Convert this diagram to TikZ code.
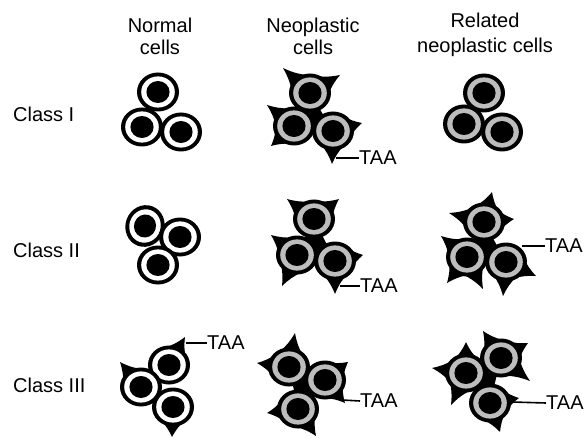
\documentclass[tikz,border=0pt]{standalone}
\usepackage{fontspec}
\setmainfont{Liberation Sans}
\usetikzlibrary{calc}
\definecolor{ringgray}{gray}{0.74}

% one cell: black membrane, coloured cytoplasm ring, black nucleus
\newcommand\cellat[3]{%
  \fill[black,rotate around={#3:(#1)}] (#1) ellipse[x radius=21pt, y radius=19.5pt];
  \fill[#2,rotate around={#3:(#1)}] (#1) ellipse[x radius=16.8pt, y radius=15.6pt];
  \fill[black,rotate around={#3:(#1)}] (#1) ellipse[x radius=11.6pt, y radius=11pt];}
% a surface antigen spike growing out of cell #1 with its tip at #2
\newcommand\spk[2]{%
  \fill[black] ($(#1)!18pt!-40:(#2)$) to[bend left=9] (#2)
     to[bend left=9] ($(#1)!18pt!40:(#2)$) -- cycle;}
% dark fill of the gap between three neighbouring cells
\newcommand\gapfill[3]{\fill[black] (#1) -- (#2) -- (#3) -- cycle;}

\tikzset{
  lbl/.style={inner sep=0pt, font=\fontsize{20}{22}\selectfont},
  taa/.style={lbl, anchor=west},
  taaline/.style={line width=1.6pt}
}

\begin{document}
\begin{tikzpicture}[x=1pt,y=-1pt]
\useasboundingbox (0,0) rectangle (588,438);
\fill[white] (0,0) rectangle (588,438);

% column headings
\node[lbl,anchor=base] (hn1) at (160,33) {Normal};
\node[lbl,anchor=base] (hn2) at (160,55) {cells};
\node[lbl,anchor=base] (hp1) at (313,33) {Neoplastic};
\node[lbl,anchor=base] (hp2) at (313,55) {cells};
\node[lbl,anchor=base] (hr1) at (485,28) {Related};
\node[lbl,anchor=base] (hr2) at (485,53) {neoplastic cells};

% row headings
\node[lbl,anchor=base west] (c1) at (13,122) {Class I};
\node[lbl,anchor=base west] (c2) at (13,257) {Class II};
\node[lbl,anchor=base west] (c3) at (13,392) {Class III};

% ---------------- Class I ----------------
\coordinate (m1a) at (158,92);
\coordinate (m1b) at (142,127);
\coordinate (m1c) at (181,132);
\cellat{m1a}{white}{0}
\cellat{m1c}{white}{0}
\cellat{m1b}{white}{0}

\coordinate (n1a) at (310,93);
\coordinate (n1b) at (294,126);
\coordinate (n1c) at (333,131);
\spk{n1a}{283,68}
\spk{n1a}{340,75}
\spk{n1b}{267,105}
\spk{n1c}{362,123}
\spk{n1b}{271,146}
\spk{n1c}{332,164}
\gapfill{n1a}{n1b}{n1c}
\cellat{n1a}{ringgray}{0}
\cellat{n1c}{ringgray}{0}
\cellat{n1b}{ringgray}{0}
\coordinate (t1s) at (336,158);
\node[taa] (t1) at (359,158) {TAA};
\draw[taaline] (t1s) -- (t1.west);

\coordinate (r1a) at (484,93);
\coordinate (r1b) at (464,124);
\coordinate (r1c) at (502,132);
\cellat{r1a}{ringgray}{0}
\cellat{r1c}{ringgray}{0}
\cellat{r1b}{ringgray}{0}

% ---------------- Class II ----------------
\coordinate (m2a) at (145,226);
\coordinate (m2b) at (180,237);
\coordinate (m2c) at (158,265);
\cellat{m2a}{white}{70}
\cellat{m2b}{white}{0}
\cellat{m2c}{white}{0}

\coordinate (n2a) at (314,219);
\coordinate (n2b) at (297,255);
\coordinate (n2c) at (335,261);
\spk{n2a}{287,199}
\spk{n2a}{339,199}
\spk{n2b}{271,235}
\spk{n2c}{363,255}
\spk{n2b}{282,286}
\spk{n2c}{335,294}
\gapfill{n2a}{n2b}{n2c}
\cellat{n2a}{ringgray}{0}
\cellat{n2c}{ringgray}{0}
\cellat{n2b}{ringgray}{0}
\coordinate (t2s) at (340,286);
\node[taa] (t2) at (360,286) {TAA};
\draw[taaline] (t2s) -- (t2.west);

\coordinate (r2a) at (484,222);
\coordinate (r2b) at (467,257);
\coordinate (r2c) at (506,262);
\spk{r2a}{492,192}
\spk{r2a}{449,213}
\spk{r2a}{514,219}
\spk{r2b}{441,236}
\spk{r2c}{536,276}
\spk{r2c}{503,296}
\spk{r2b}{483,289}
\spk{r2b}{447,283}
\gapfill{r2a}{r2b}{r2c}
\cellat{r2a}{ringgray}{0}
\cellat{r2c}{ringgray}{0}
\cellat{r2b}{ringgray}{0}
\coordinate (t3s) at (522,246);
\node[taa] (t3) at (545,246) {TAA};
\draw[taaline] (t3s) -- (t3.west);

% ---------------- Class III ----------------
\coordinate (m3a) at (169,365);
\coordinate (m3b) at (141,387);
\coordinate (m3c) at (173,407);
\spk{m3a}{185,337}
\spk{m3b}{120,362}
\spk{m3c}{172,437}
\cellat{m3c}{white}{0}
\cellat{m3a}{white}{0}
\cellat{m3b}{white}{0}
\coordinate (t4s) at (186,343);
\node[taa] (t4) at (207,343) {TAA};
\draw[taaline] (t4s) -- (t4.west);

\coordinate (n3a) at (289,367);
\coordinate (n3b) at (325,380);
\coordinate (n3c) at (298,409);
\spk{n3a}{295,333}
\spk{n3a}{257,363}
\spk{n3b}{348,362}
\spk{n3c}{267,413}
\spk{n3c}{316,436}
\spk{n3b}{345,403}
\gapfill{n3a}{n3b}{n3c}
\cellat{n3a}{ringgray}{0}
\cellat{n3c}{ringgray}{0}
\cellat{n3b}{ringgray}{0}
\coordinate (t5s) at (342,400);
\node[taa] (t5) at (360,401) {TAA};
\draw[taaline] (t5s) -- (t5.west);

\coordinate (r3a) at (466,373);
\coordinate (r3b) at (501,358);
\coordinate (r3c) at (490,403);
\spk{r3b}{483,331}
\spk{r3b}{528,343}
\spk{r3a}{466,342}
\spk{r3a}{432,368}
\spk{r3b}{530,381}
\spk{r3a}{451,405}
\spk{r3c}{500,432}
\spk{r3c}{519,398}
\gapfill{r3a}{r3b}{r3c}
\cellat{r3c}{ringgray}{0}
\cellat{r3b}{ringgray}{0}
\cellat{r3a}{ringgray}{0}
\coordinate (t6s) at (512,402);
\node[taa] (t6) at (546,403) {TAA};
\draw[taaline] (t6s) -- (t6.west);
\end{tikzpicture}
\end{document}
